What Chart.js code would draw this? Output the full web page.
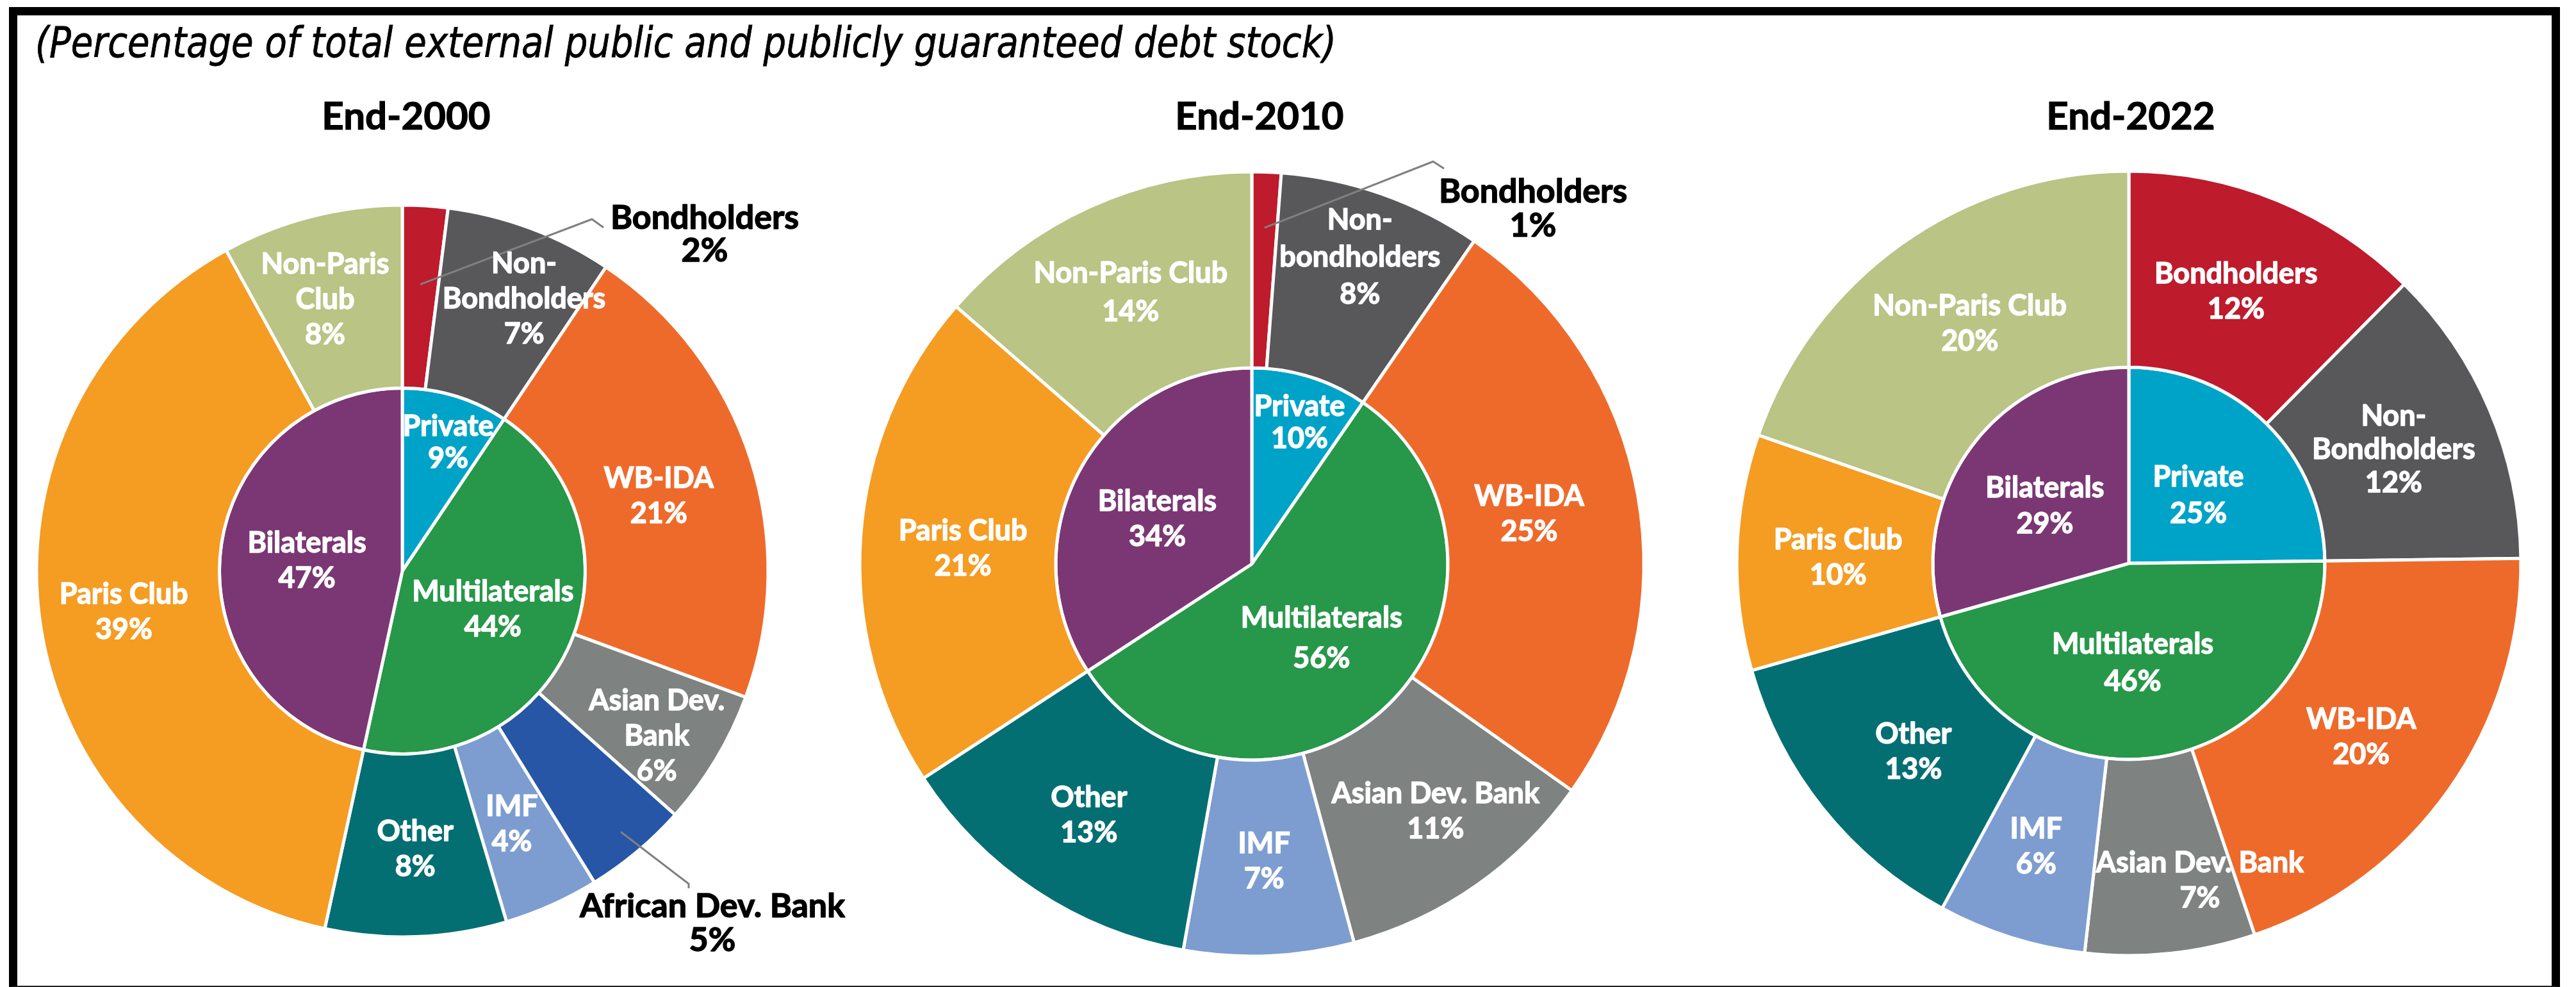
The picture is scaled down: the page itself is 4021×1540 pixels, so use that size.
<!DOCTYPE html>
<html>
<head>
<meta charset="utf-8">
<script src="https://cdn.jsdelivr.net/npm/chart.js@4.4.1/dist/chart.umd.min.js"></script>
<style>
  html, body { margin: 0; padding: 0; background: #fff; }
  #page { position: relative; width: 4021px; height: 1540px; overflow: hidden; background: #fff; }
  #frame {
    position: absolute; left: 14px; top: 11px; width: 3982px; height: 1529px;
    box-sizing: border-box; border: 13px solid #000; border-bottom: 2px solid #222;
  }
  #subtitle {
    position: absolute; left: 55px; top: 34px; line-height: 66px;
    font-family: "Liberation Sans Narrow", "DejaVu Sans Condensed", sans-serif;
    font-style: italic; font-size: 66px; white-space: nowrap; color: #000;
    -webkit-text-stroke: 0.8px #000;
    transform-origin: 0 0;
  }
  .year {
    position: absolute; top: 149px; line-height: 60px;
    font-family: Lato, "Open Sans", sans-serif; font-weight: bold; font-size: 60px;
    color: #000; white-space: nowrap; transform: translateX(-50%);
    -webkit-text-stroke: 1.2px #000;
  }
  canvas { position: absolute; top: 0; }
</style>
</head>
<body>
<div id="page">
  <div id="frame"></div>
  <div id="subtitle">(Percentage of total external public and publicly guaranteed debt stock)</div>
  <div class="year" id="year0"></div>
  <div class="year" id="year1"></div>
  <div class="year" id="year2"></div>
  <canvas id="pie2000" width="1500" height="1540"></canvas>
  <canvas id="pie2010" width="1500" height="1540"></canvas>
  <canvas id="pie2022" width="1500" height="1540"></canvas>
</div>
<script>
// ---- data (percent of total external PPG debt stock) ----
const years = ["End-2000", "End-2010", "End-2022"];
const innerCats = ["Private", "Multilaterals", "Bilaterals"];

const outerCats2000 = ["Bondholders", "Non-Bondholders", "WB-IDA", "Asian Dev. Bank", "African Dev. Bank", "IMF", "Other", "Paris Club", "Non-Paris Club"];
const outer2000 = [2.0, 7.4, 21.2, 6.0, 4.6, 4.2, 8.0, 38.6, 8.0];
const inner2000 = [9.4, 44.0, 46.6];

const outerCats2010 = ["Bondholders", "Non-bondholders", "WB-IDA", "Asian Dev. Bank", "IMF", "Other", "Paris Club", "Non-Paris Club"];
const outer2010 = [1.2, 8.4, 25.2, 11.0, 7.0, 13.0, 20.6, 13.6];
const inner2010 = [9.6, 56.2, 34.2];

const outerCats2022 = ["Bondholders", "Non-Bondholders", "WB-IDA", "Asian Dev. Bank", "IMF", "Other", "Paris Club", "Non-Paris Club"];
const outer2022 = [12.4, 12.4, 20.0, 7.0, 6.1, 12.7, 9.7, 19.7];
const inner2022 = [24.8, 45.8, 29.4];

// ---- styling ----
const colors = {
  "bondholders": "#BE1B2C",
  "non-bondholders": "#58585B",
  "wb-ida": "#EE6A2B",
  "asian dev. bank": "#7E8281",
  "african dev. bank": "#2656A5",
  "imf": "#7D9DD0",
  "other": "#036F73",
  "paris club": "#F59C22",
  "non-paris club": "#B9C485",
  "private": "#00A3C8",
  "multilaterals": "#27974A",
  "bilaterals": "#7B3774",
};
const colorFor = (name) => colors[name.toLowerCase()];

const FONT = "Lato, 'Open Sans', sans-serif";

const sliceLabels = {
  id: "sliceLabels",
  afterDatasetsDraw(chart, args, opts) {
    const ctx = chart.ctx;
    ctx.save();
    ctx.textAlign = "center";
    ctx.textBaseline = "middle";
    ctx.lineJoin = "round";
    (opts.items || []).forEach((it) => {
      const arc = chart.getDatasetMeta(it.ds).data[it.idx];
      const p = arc.getProps(["x", "y", "startAngle", "endAngle", "innerRadius", "outerRadius"], true);
      const mid = (p.startAngle + p.endAngle) / 2;
      const value = chart.data.datasets[it.ds].data[it.idx];
      const name = it.ds === 0 ? chart.data.labels[it.idx] : innerCats[it.idx];
      const lines = (it.lines || [name]).concat([Math.round(value) + "%"]);
      const size = it.size || 45;
      const lh = it.lh || 55;
      let ax, ay;
      if (it.callout) {
        const c = it.callout;
        const r0 = p.outerRadius * c.r;
        ctx.strokeStyle = "#808080";
        ctx.lineWidth = 3;
        ctx.beginPath();
        ctx.moveTo(p.x + Math.cos(mid) * r0, p.y + Math.sin(mid) * r0);
        ctx.lineTo(p.x + c.elbow[0], p.y + c.elbow[1]);
        ctx.lineTo(p.x + c.end[0], p.y + c.end[1]);
        ctx.stroke();
        ax = p.x + c.text[0];
        ay = p.y + c.text[1];
      } else {
        const rad = (p.innerRadius + p.outerRadius) / 2;
        ax = p.x + Math.cos(mid) * rad + (it.dx || 0);
        ay = p.y + Math.sin(mid) * rad + (it.dy || 0);
      }
      const col = it.color || "#ffffff";
      ctx.fillStyle = col;
      ctx.strokeStyle = col;
      ctx.lineWidth = 1.4;
      ctx.font = "bold " + size + "px " + FONT;
      const y0 = ay - ((lines.length - 1) * lh) / 2;
      lines.forEach((t, i) => {
        ctx.fillText(t, ax, y0 + i * lh);
        ctx.strokeText(t, ax, y0 + i * lh);
      });
    });
    ctx.restore();
  },
};

function makePie(id, cats, outer, inner, geo, items) {
  const el = document.getElementById(id);
  el.style.left = geo.cx - el.width / 2 + "px";
  const H = el.height;
  const padTop = Math.max(2 * geo.cy - H, 0);
  const padBottom = Math.max(H - 2 * geo.cy, 0);
  return new Chart(el, {
    type: "doughnut",
    data: {
      labels: cats,
      datasets: [
        {
          data: outer,
          backgroundColor: cats.map(colorFor),
          borderColor: "#ffffff",
          borderWidth: 5,
        },
        {
          data: inner,
          backgroundColor: innerCats.map(colorFor),
          borderColor: "#ffffff",
          borderWidth: 5,
        },
      ],
    },
    options: {
      responsive: false,
      animation: false,
      events: [],
      cutout: 0,
      radius: geo.R,
      layout: { padding: { top: padTop, bottom: padBottom, left: 0, right: 0 } },
      plugins: {
        legend: { display: false },
        tooltip: { enabled: false },
        sliceLabels: { items: items },
      },
    },
    plugins: [sliceLabels],
  });
}

// titles
const titleX = [634, 1966, 3326];
years.forEach((y, i) => {
  const d = document.getElementById("year" + i);
  d.textContent = y;
  d.style.left = titleX[i] + "px";
});

// subtitle width to match the condensed face of the original
(function () {
  const s = document.getElementById("subtitle");
  const w = s.getBoundingClientRect().width;
  if (w > 0) s.style.transform = "scaleX(" + (2031 / w) + ")";
})();

const black = "#000000";

makePie("pie2000", outerCats2000, outer2000, inner2000, { cx: 628, cy: 891, R: 571 }, [
  { ds: 0, idx: 0, color: black, size: 52, lh: 51, callout: { r: 0.785, elbow: [296, -549], end: [314, -536], text: [472, -525] } },
  { ds: 0, idx: 1, lines: ["Non-", "Bondholders"], dx: 40, dy: -23 },
  { ds: 0, idx: 2, dx: -7, dy: 15 },
  { ds: 0, idx: 3, lines: ["Asian Dev.", "Bank"], dx: 30, dy: 37 },
  { ds: 0, idx: 4, color: black, size: 52, lh: 53, callout: { r: 0.93, elbow: [447, 488], end: [447, 495], text: [484, 550] } },
  { ds: 0, idx: 5, dx: -4, dy: 4 },
  { ds: 0, idx: 6, dx: 4, dy: 6 },
  { ds: 0, idx: 7, dx: -11, dy: 2 },
  { ds: 0, idx: 8, lines: ["Non-Paris", "Club"], dx: -14, dy: -9 },
  { ds: 1, idx: 0, dx: 30, dy: -64, lh: 50 },
  { ds: 1, idx: 1, dx: 10, dy: 4 },
  { ds: 1, idx: 2, dx: -7, dy: -1 },
]);

makePie("pie2010", outerCats2010, outer2010, inner2010, { cx: 1954, cy: 880, R: 612 }, [
  { ds: 0, idx: 0, color: black, size: 52, lh: 53, callout: { r: 0.858, elbow: [283, -628], end: [300, -617], text: [439, -554] } },
  { ds: 0, idx: 1, lines: ["Non-", "bondholders"], dx: 16, dy: -46, lh: 58 },
  { ds: 0, idx: 2, dx: -19, dy: 2 },
  { ds: 0, idx: 3, dx: 24, dy: 10 },
  { ds: 0, idx: 4, dx: -1, dy: 5 },
  { ds: 0, idx: 5, dx: -1, dy: 9 },
  { ds: 0, idx: 6, dx: 7, dy: 8 },
  { ds: 0, idx: 7, dx: 1, dy: -6, lh: 60 },
  { ds: 1, idx: 0, dx: 29, dy: -74, lh: 50 },
  { ds: 1, idx: 1, dx: 2, dy: 6, lh: 63 },
  { ds: 1, idx: 2, dx: -13, dy: 3 },
]);

makePie("pie2022", outerCats2022, outer2022, inner2022, { cx: 3323, cy: 879, R: 612 }, [
  { ds: 0, idx: 0, dx: -7, dy: 1 },
  { ds: 0, idx: 1, lines: ["Non-", "Bondholders"], dx: -9, dy: 2, lh: 52 },
  { ds: 0, idx: 2, dx: -12, dy: 6 },
  { ds: 0, idx: 3, dx: 62, dy: 39 },
  { ds: 0, idx: 4, dx: -7, dy: 4 },
  { ds: 0, idx: 5, dx: 22, dy: 7 },
  { ds: 0, idx: 6, dx: 5, dy: 4 },
  { ds: 0, idx: 7, dx: 18, dy: 0 },
  { ds: 1, idx: 0, dx: 1, dy: 3, lh: 57 },
  { ds: 1, idx: 1, dx: -16, dy: 4, lh: 58 },
  { ds: 1, idx: 2, dx: -9, dy: 3, lh: 56 },
]);
</script>
</body>
</html>
